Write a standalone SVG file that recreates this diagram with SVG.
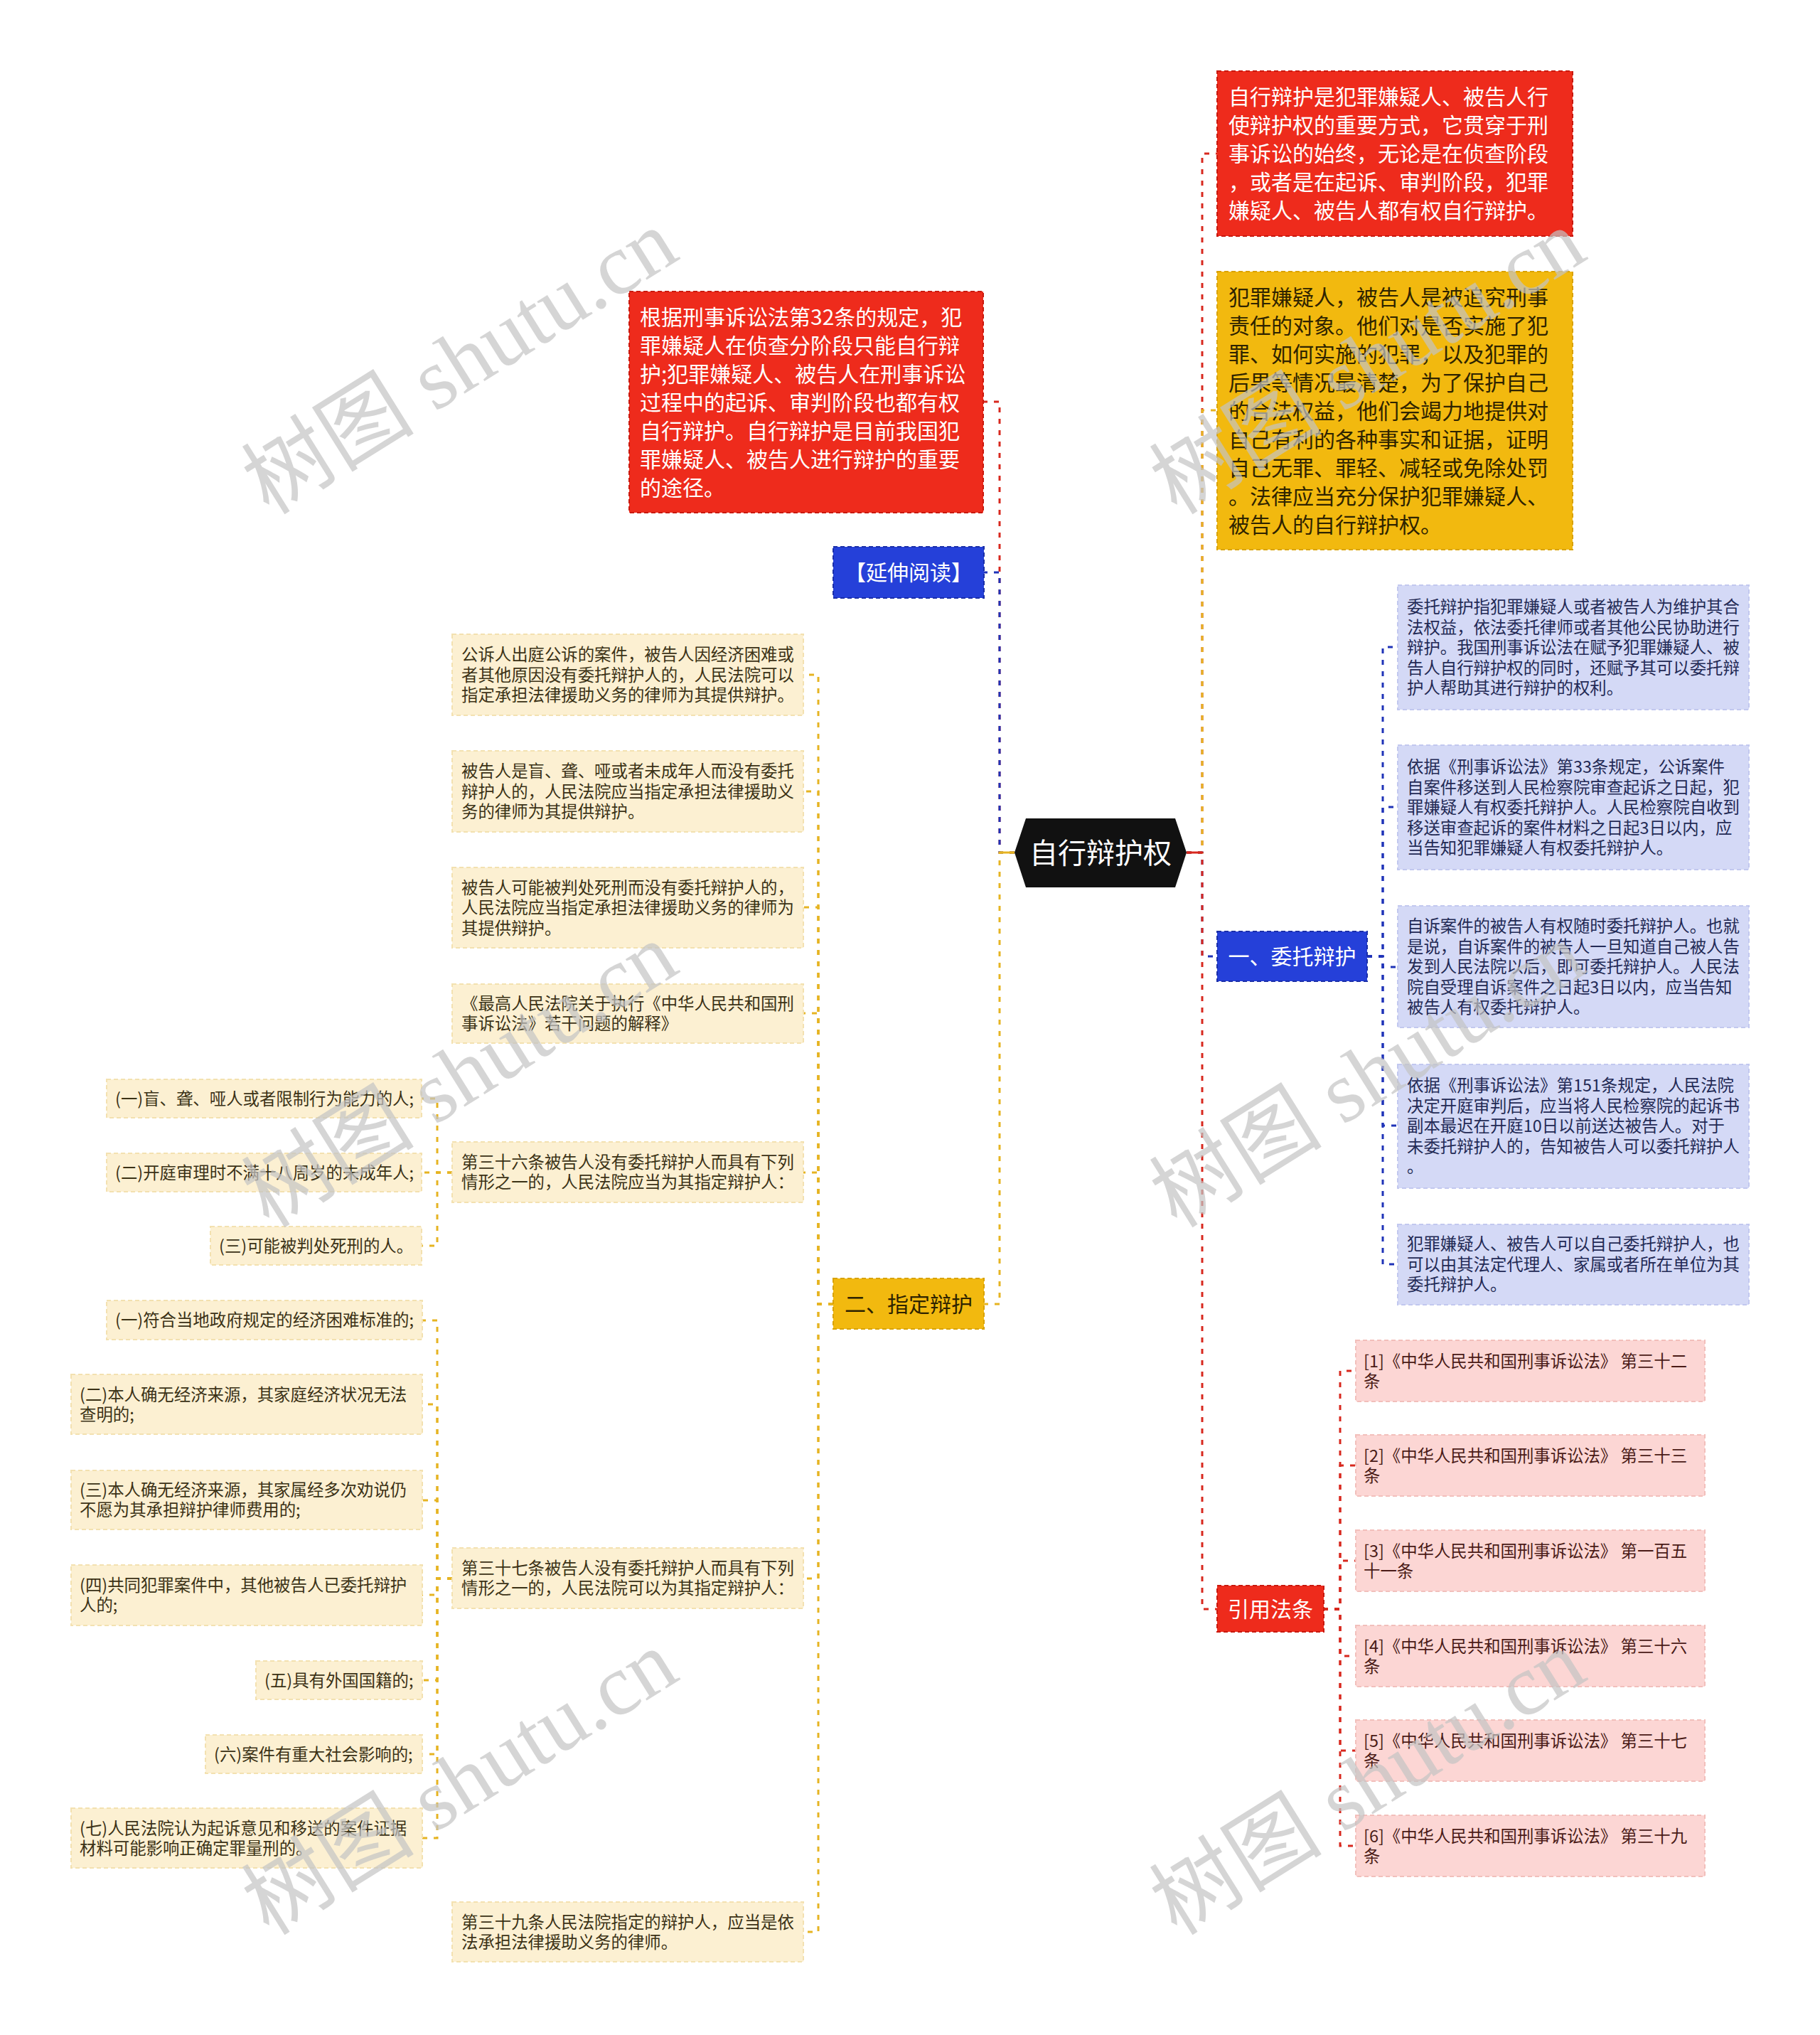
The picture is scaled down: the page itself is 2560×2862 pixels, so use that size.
<svg xmlns="http://www.w3.org/2000/svg" width="2560" height="2862" viewBox="0 0 2560 2862">
<style>
text{font-family:"Noto Sans CJK SC","Liberation Sans",sans-serif}
.big{font-size:30px}
.sm{font-size:23.4px}
.w{fill:#ffffff}
.dk{fill:#2e2300}
.lv{fill:#232a55}
.cr{fill:#3b3216}
.pk{fill:#4a1b17}
.bred{fill:#ee2b1c;stroke:#c9190e;stroke-width:2;stroke-dasharray:6 4}
.byel{fill:#f2b90f;stroke:#d9a200;stroke-width:2;stroke-dasharray:6 4}
.bblu{fill:#2540d9;stroke:#1b2fa8;stroke-width:2;stroke-dasharray:6 4}
.blav{fill:#d4d9f6;stroke:#c2c8ef;stroke-width:2;stroke-dasharray:6 4}
.bcrm{fill:#fcf0d2;stroke:#f3e1b0;stroke-width:2;stroke-dasharray:6 4}
.bpnk{fill:#fcd6d4;stroke:#f2bfbb;stroke-width:2;stroke-dasharray:6 4}
.c{fill:none;stroke-width:3;stroke-dasharray:7 9}
.cR{stroke:#d8281e}
.cY{stroke:#e6b422}
.cB{stroke:#1f33b8}
.wm{font-family:"Liberation Serif","Noto Sans CJK SC",serif;font-size:122px;fill:#c4c4c4;opacity:0.7}
</style>
<rect width="2560" height="2862" fill="#ffffff"/>

<g id="connectors">
  <path class="c cR" d="M1427,1199 H1406 V565 H1383"/>
  <path class="c cB" d="M1427,1199 H1406 V805 H1384"/>
  <path class="c cY" d="M1427,1199 H1406 V1834 H1384"/>
  <path d="M1406,1199 H1427" stroke="#e6b422" stroke-width="3"/>
  <path class="c cR" d="M1669,1199 H1691 V216 H1712"/>
  <path class="c cY" d="M1669,1199 H1691 V577 H1712"/>
  <path class="c cB" d="M1669,1199 H1691 V1345 H1712"/>
  <path class="c cR" d="M1669,1199 H1691 V2263 H1712"/>
  <path d="M1669,1199 H1691" stroke="#d8281e" stroke-width="3"/>
  <path class="c cB" d="M1923,1345 H1945 V910 H1966"/>
  <path class="c cB" d="M1923,1345 H1945 V1135 H1966"/>
  <path class="c cB" d="M1923,1345 H1945 V1360 H1966"/>
  <path class="c cB" d="M1923,1345 H1945 V1583 H1966"/>
  <path class="c cB" d="M1923,1345 H1945 V1778 H1966"/>
  <path class="c cR" d="M1861,2263 H1885 V1928 H1907"/>
  <path class="c cR" d="M1861,2263 H1885 V2061 H1907"/>
  <path class="c cR" d="M1861,2263 H1885 V2195 H1907"/>
  <path class="c cR" d="M1861,2263 H1885 V2329 H1907"/>
  <path class="c cR" d="M1861,2263 H1885 V2462 H1907"/>
  <path class="c cR" d="M1861,2263 H1885 V2596 H1907"/>
  <path class="c cY" d="M1172,1834 H1151 V949 H1130"/>
  <path class="c cY" d="M1172,1834 H1151 V1113 H1130"/>
  <path class="c cY" d="M1172,1834 H1151 V1276 H1130"/>
  <path class="c cY" d="M1172,1834 H1151 V1425 H1130"/>
  <path class="c cY" d="M1172,1834 H1151 V1649 H1130"/>
  <path class="c cY" d="M1172,1834 H1151 V2220 H1130"/>
  <path class="c cY" d="M1172,1834 H1151 V2717 H1130"/>
  <path class="c cY" d="M636,1649 H615 V1545 H593"/>
  <path class="c cY" d="M636,1649 H615 V1649 H593"/>
  <path class="c cY" d="M636,1649 H615 V1752 H593"/>
  <path class="c cY" d="M636,2220 H615 V1857 H594"/>
  <path class="c cY" d="M636,2220 H615 V1975 H594"/>
  <path class="c cY" d="M636,2220 H615 V2110 H594"/>
  <path class="c cY" d="M636,2220 H615 V2243 H594"/>
  <path class="c cY" d="M636,2220 H615 V2363 H594"/>
  <path class="c cY" d="M636,2220 H615 V2467 H594"/>
  <path class="c cY" d="M636,2220 H615 V2585 H594"/>
</g>

<g id="root">
  <polygon points="1427,1199 1443,1151 1653,1151 1669,1199 1653,1248 1443,1248" fill="#111111"/>
  <text x="1548" y="1214" font-size="40" fill="#ffffff" text-anchor="middle">自行辩护权</text>
</g>

<g id="r-red">
  <rect class="bred" x="1712" y="100" width="500" height="232"/>
  <text class="big w"><tspan x="1728" y="147">自行辩护是犯罪嫌疑人、被告人行</tspan><tspan x="1728" y="187">使辩护权的重要方式，它贯穿于刑</tspan><tspan x="1728" y="227">事诉讼的始终，无论是在侦查阶段</tspan><tspan x="1728" y="267">，或者是在起诉、审判阶段，犯罪</tspan><tspan x="1728" y="307">嫌疑人、被告人都有权自行辩护。</tspan></text>
</g>

<g id="r-yellow">
  <rect class="byel" x="1712" y="382" width="500" height="391"/>
  <text class="big dk"><tspan x="1728" y="428.5">犯罪嫌疑人，被告人是被追究刑事</tspan><tspan x="1728" y="468.5">责任的对象。他们对是否实施了犯</tspan><tspan x="1728" y="508.5">罪、如何实施的犯罪，以及犯罪的</tspan><tspan x="1728" y="548.5">后果等情况最清楚，为了保护自己</tspan><tspan x="1728" y="588.5">的合法权益，他们会竭力地提供对</tspan><tspan x="1728" y="628.5">自己有利的各种事实和证据，证明</tspan><tspan x="1728" y="668.5">自己无罪、罪轻、减轻或免除处罚</tspan><tspan x="1728" y="708.5">。法律应当充分保护犯罪嫌疑人、</tspan><tspan x="1728" y="748.5">被告人的自行辩护权。</tspan></text>
</g>

<g id="l-red">
  <rect class="bred" x="885" y="410" width="498" height="311"/>
  <text class="big w"><tspan x="900" y="456.5">根据刑事诉讼法第32条的规定，犯</tspan><tspan x="900" y="496.5">罪嫌疑人在侦查分阶段只能自行辩</tspan><tspan x="900" y="536.5">护;犯罪嫌疑人、被告人在刑事诉讼</tspan><tspan x="900" y="576.5">过程中的起诉、审判阶段也都有权</tspan><tspan x="900" y="616.5">自行辩护。自行辩护是目前我国犯</tspan><tspan x="900" y="656.5">罪嫌疑人、被告人进行辩护的重要</tspan><tspan x="900" y="696.5">的途径。</tspan></text>
</g>

<g id="yanshen">
  <rect class="bblu" x="1172" y="769" width="212" height="72"/>
  <text class="big w" x="1278" y="816" text-anchor="middle">【延伸阅读】</text>
</g>

<g id="weituo">
  <rect class="bblu" x="1712" y="1310" width="211" height="70"/>
  <text class="big w" x="1817.5" y="1356" text-anchor="middle">一、委托辩护</text>
</g>

<g id="zhiding">
  <rect class="byel" x="1172" y="1798" width="212" height="71"/>
  <text class="big dk" x="1278" y="1845" text-anchor="middle">二、指定辩护</text>
</g>

<g id="yinyong">
  <rect class="bred" x="1712" y="2230" width="150" height="65"/>
  <text class="big w" x="1787" y="2274" text-anchor="middle">引用法条</text>
</g>

<g id="wt1">
  <rect class="blav" x="1966" y="823" width="494" height="175"/>
  <text class="sm lv"><tspan x="1979" y="862.4">委托辩护指犯罪嫌疑人或者被告人为维护其合</tspan><tspan x="1979" y="890.8">法权益，依法委托律师或者其他公民协助进行</tspan><tspan x="1979" y="919.2">辩护。我国刑事诉讼法在赋予犯罪嫌疑人、被</tspan><tspan x="1979" y="947.6">告人自行辩护权的同时，还赋予其可以委托辩</tspan><tspan x="1979" y="976">护人帮助其进行辩护的权利。</tspan></text>
</g>
<g id="wt2">
  <rect class="blav" x="1966" y="1048" width="494" height="175"/>
  <text class="sm lv"><tspan x="1979" y="1087.4">依据《刑事诉讼法》第33条规定，公诉案件</tspan><tspan x="1979" y="1115.8">自案件移送到人民检察院审查起诉之日起，犯</tspan><tspan x="1979" y="1144.2">罪嫌疑人有权委托辩护人。人民检察院自收到</tspan><tspan x="1979" y="1172.6">移送审查起诉的案件材料之日起3日以内，应</tspan><tspan x="1979" y="1201">当告知犯罪嫌疑人有权委托辩护人。</tspan></text>
</g>
<g id="wt3">
  <rect class="blav" x="1966" y="1274" width="494" height="171"/>
  <text class="sm lv"><tspan x="1979" y="1311.4">自诉案件的被告人有权随时委托辩护人。也就</tspan><tspan x="1979" y="1339.8">是说，自诉案件的被告人一旦知道自己被人告</tspan><tspan x="1979" y="1368.2">发到人民法院以后，即可委托辩护人。人民法</tspan><tspan x="1979" y="1396.6">院自受理自诉案件之日起3日以内，应当告知</tspan><tspan x="1979" y="1425">被告人有权委托辩护人。</tspan></text>
</g>
<g id="wt4">
  <rect class="blav" x="1966" y="1497" width="494" height="174"/>
  <text class="sm lv"><tspan x="1979" y="1535.4">依据《刑事诉讼法》第151条规定，人民法院</tspan><tspan x="1979" y="1563.8">决定开庭审判后，应当将人民检察院的起诉书</tspan><tspan x="1979" y="1592.2">副本最迟在开庭10日以前送达被告人。对于</tspan><tspan x="1979" y="1620.6">未委托辩护人的，告知被告人可以委托辩护人</tspan><tspan x="1979" y="1649">。</tspan></text>
</g>
<g id="wt5">
  <rect class="blav" x="1966" y="1722" width="494" height="113"/>
  <text class="sm lv"><tspan x="1979" y="1758.3">犯罪嫌疑人、被告人可以自己委托辩护人，也</tspan><tspan x="1979" y="1786.7">可以由其法定代理人、家属或者所在单位为其</tspan><tspan x="1979" y="1815.1">委托辩护人。</tspan></text>
</g>

<g id="yy1">
  <rect class="bpnk" x="1907" y="1885" width="491" height="86"/>
  <text class="sm pk"><tspan x="1918" y="1922.5">[1]《中华人民共和国刑事诉讼法》 第三十二</tspan><tspan x="1918" y="1950.9">条</tspan></text>
</g>
<g id="yy2">
  <rect class="bpnk" x="1907" y="2018" width="491" height="86"/>
  <text class="sm pk"><tspan x="1918" y="2055.5">[2]《中华人民共和国刑事诉讼法》 第三十三</tspan><tspan x="1918" y="2083.9">条</tspan></text>
</g>
<g id="yy3">
  <rect class="bpnk" x="1907" y="2152" width="491" height="86"/>
  <text class="sm pk"><tspan x="1918" y="2189.5">[3]《中华人民共和国刑事诉讼法》 第一百五</tspan><tspan x="1918" y="2217.9">十一条</tspan></text>
</g>
<g id="yy4">
  <rect class="bpnk" x="1907" y="2286" width="491" height="86"/>
  <text class="sm pk"><tspan x="1918" y="2323.5">[4]《中华人民共和国刑事诉讼法》 第三十六</tspan><tspan x="1918" y="2351.9">条</tspan></text>
</g>
<g id="yy5">
  <rect class="bpnk" x="1907" y="2419" width="491" height="86"/>
  <text class="sm pk"><tspan x="1918" y="2456.5">[5]《中华人民共和国刑事诉讼法》 第三十七</tspan><tspan x="1918" y="2484.9">条</tspan></text>
</g>
<g id="yy6">
  <rect class="bpnk" x="1907" y="2553" width="491" height="86"/>
  <text class="sm pk"><tspan x="1918" y="2590.5">[6]《中华人民共和国刑事诉讼法》 第三十九</tspan><tspan x="1918" y="2618.9">条</tspan></text>
</g>

<g id="zd-a">
  <rect class="bcrm" x="636" y="892" width="494" height="114"/>
  <text class="sm cr"><tspan x="649" y="929.3">公诉人出庭公诉的案件，被告人因经济困难或</tspan><tspan x="649" y="957.7">者其他原因没有委托辩护人的，人民法院可以</tspan><tspan x="649" y="986.1">指定承担法律援助义务的律师为其提供辩护。</tspan></text>
</g>
<g id="zd-b">
  <rect class="bcrm" x="636" y="1056" width="494" height="114"/>
  <text class="sm cr"><tspan x="649" y="1093.3">被告人是盲、聋、哑或者未成年人而没有委托</tspan><tspan x="649" y="1121.7">辩护人的，人民法院应当指定承担法律援助义</tspan><tspan x="649" y="1150.1">务的律师为其提供辩护。</tspan></text>
</g>
<g id="zd-c">
  <rect class="bcrm" x="636" y="1220" width="494" height="113"/>
  <text class="sm cr"><tspan x="649" y="1256.8">被告人可能被判处死刑而没有委托辩护人的，</tspan><tspan x="649" y="1285.2">人民法院应当指定承担法律援助义务的律师为</tspan><tspan x="649" y="1313.6">其提供辩护。</tspan></text>
</g>
<g id="zd-d">
  <rect class="bcrm" x="636" y="1384" width="494" height="83"/>
  <text class="sm cr"><tspan x="649" y="1420">《最高人民法院关于执行《中华人民共和国刑</tspan><tspan x="649" y="1448.4">事诉讼法》若干问题的解释》</tspan></text>
</g>
<g id="zd-e">
  <rect class="bcrm" x="636" y="1606" width="494" height="85"/>
  <text class="sm cr"><tspan x="649" y="1643">第三十六条被告人没有委托辩护人而具有下列</tspan><tspan x="649" y="1671.4">情形之一的，人民法院应当为其指定辩护人：</tspan></text>
</g>
<g id="zd-e1">
  <rect class="bcrm" x="150" y="1518" width="443" height="54"/>
  <text class="sm cr" x="162" y="1553.7">(一)盲、聋、哑人或者限制行为能力的人;</text>
</g>
<g id="zd-e2">
  <rect class="bcrm" x="150" y="1622" width="443" height="54"/>
  <text class="sm cr" x="162" y="1657.7">(二)开庭审理时不满十八周岁的未成年人;</text>
</g>
<g id="zd-e3">
  <rect class="bcrm" x="296" y="1725" width="297" height="54"/>
  <text class="sm cr" x="308" y="1760.7">(三)可能被判处死刑的人。</text>
</g>
<g id="zd-f">
  <rect class="bcrm" x="636" y="2177" width="494" height="85"/>
  <text class="sm cr"><tspan x="649" y="2214">第三十七条被告人没有委托辩护人而具有下列</tspan><tspan x="649" y="2242.4">情形之一的，人民法院可以为其指定辩护人：</tspan></text>
</g>
<g id="zd-f1">
  <rect class="bcrm" x="150" y="1829" width="444" height="55"/>
  <text class="sm cr" x="162" y="1865.2">(一)符合当地政府规定的经济困难标准的;</text>
</g>
<g id="zd-f2">
  <rect class="bcrm" x="100" y="1933" width="494" height="84"/>
  <text class="sm cr"><tspan x="112" y="1969.5">(二)本人确无经济来源，其家庭经济状况无法</tspan><tspan x="112" y="1997.9">查明的;</tspan></text>
</g>
<g id="zd-f3">
  <rect class="bcrm" x="100" y="2068" width="494" height="83"/>
  <text class="sm cr"><tspan x="112" y="2104">(三)本人确无经济来源，其家属经多次劝说仍</tspan><tspan x="112" y="2132.4">不愿为其承担辩护律师费用的;</tspan></text>
</g>
<g id="zd-f4">
  <rect class="bcrm" x="100" y="2201" width="494" height="85"/>
  <text class="sm cr"><tspan x="112" y="2238">(四)共同犯罪案件中，其他被告人已委托辩护</tspan><tspan x="112" y="2266.4">人的;</tspan></text>
</g>
<g id="zd-f5">
  <rect class="bcrm" x="360" y="2336" width="234" height="54"/>
  <text class="sm cr" x="372" y="2371.7">(五)具有外国国籍的;</text>
</g>
<g id="zd-f6">
  <rect class="bcrm" x="289" y="2440" width="305" height="54"/>
  <text class="sm cr" x="301" y="2475.7">(六)案件有重大社会影响的;</text>
</g>
<g id="zd-f7">
  <rect class="bcrm" x="100" y="2543" width="494" height="84"/>
  <text class="sm cr"><tspan x="112" y="2579.5">(七)人民法院认为起诉意见和移送的案件证据</tspan><tspan x="112" y="2607.9">材料可能影响正确定罪量刑的。</tspan></text>
</g>
<g id="zd-g">
  <rect class="bcrm" x="636" y="2675" width="494" height="84"/>
  <text class="sm cr"><tspan x="649" y="2711.5">第三十九条人民法院指定的辩护人，应当是依</tspan><tspan x="649" y="2739.9">法承担法律援助义务的律师。</tspan></text>
</g>

<g id="watermarks">
  <text class="wm" x="648" y="550" text-anchor="middle" transform="rotate(-32 648 511)">树图 shutu.cn</text>
  <text class="wm" x="1925" y="550" text-anchor="middle" transform="rotate(-32 1925 511)">树图 shutu.cn</text>
  <text class="wm" x="648" y="1553" text-anchor="middle" transform="rotate(-32 648 1514)">树图 shutu.cn</text>
  <text class="wm" x="1925" y="1553" text-anchor="middle" transform="rotate(-32 1925 1514)">树图 shutu.cn</text>
  <text class="wm" x="648" y="2548" text-anchor="middle" transform="rotate(-32 648 2509)">树图 shutu.cn</text>
  <text class="wm" x="1925" y="2548" text-anchor="middle" transform="rotate(-32 1925 2509)">树图 shutu.cn</text>
</g>
</svg>
